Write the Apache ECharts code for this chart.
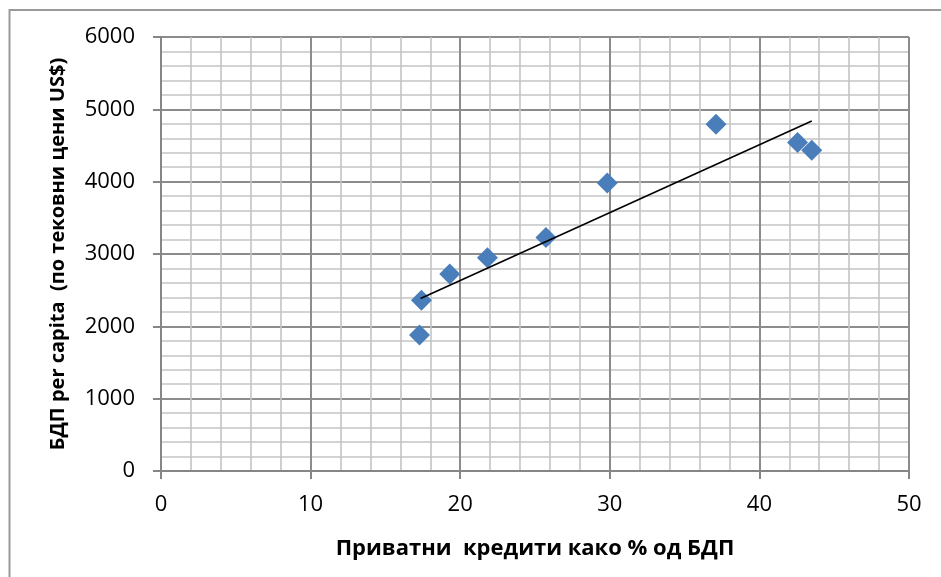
<!DOCTYPE html>
<html>
<head>
<meta charset="utf-8">
<script src="https://cdn.jsdelivr.net/npm/echarts@6/dist/echarts.min.js"></script>
<style>
html,body{margin:0;padding:0;background:#fff;}
#chart{width:941px;height:577px;}
</style>
</head>
<body>
<div id="chart"></div>
<script>
// Data
const creditPct = [17.28, 17.41, 19.30, 21.82, 25.73, 29.83, 37.10, 42.55, 43.50];
const gdpPerCapita = [1879, 2362, 2722, 2947, 3229, 3983, 4794, 4541, 4435];
const trendX = [17.35, 43.5];
const trendY = [2385, 4840];
const xTicks = [0, 10, 20, 30, 40, 50];
const yTicks = [0, 1000, 2000, 3000, 4000, 5000, 6000];
const xTitle = 'Приватни  кредити како % од БДП';
const yTitle = 'БДП per capita  (по тековни цени US$)';

const chart = echarts.init(document.getElementById('chart'), null, {renderer: 'canvas'});
const font = 'Open Sans';
const scatterData = creditPct.map((x, i) => [x, gdpPerCapita[i]]);
const trendData = trendX.map((x, i) => [x, trendY[i]]);

chart.setOption({
  animation: false,
  backgroundColor: '#ffffff',
  graphic: [{
    type: 'rect',
    shape: {x: 9.5, y: 10, width: 1000, height: 1000},
    style: {fill: 'none', stroke: '#9a9a9a', lineWidth: 2},
    silent: true,
    z: -10
  }],
  grid: {left: 161, right: 32, top: 37, bottom: 106, containLabel: false},
  xAxis: {
    type: 'value',
    min: xTicks[0], max: xTicks[xTicks.length - 1], interval: 10,
    name: xTitle,
    nameLocation: 'middle',
    nameGap: 67,
    nameTextStyle: {fontFamily: font, fontWeight: 'bold', fontSize: 22, color: '#000'},
    axisLine: {show: true, onZero: false, lineStyle: {color: '#868686', width: 2}},
    axisTick: {show: true, inside: false, length: 8, lineStyle: {color: '#868686', width: 2}},
    axisLabel: {fontFamily: font, fontSize: 22, color: '#000', margin: 23, formatter: v => String(v)},
    splitLine: {show: true, lineStyle: {color: '#8c8c8c', width: 2}},
    minorTick: {show: false, splitNumber: 5},
    minorSplitLine: {show: true, lineStyle: {color: '#c4c4c4', width: 1.6}}
  },
  yAxis: {
    type: 'value',
    min: yTicks[0], max: yTicks[yTicks.length - 1], interval: 1000,
    name: yTitle,
    nameLocation: 'middle',
    nameGap: 93,
    nameRotate: 90,
    nameTextStyle: {fontFamily: font, fontWeight: 'bold', fontSize: 20, color: '#000'},
    axisLine: {show: true, onZero: false, lineStyle: {color: '#868686', width: 2}},
    axisTick: {show: true, inside: false, length: 8, lineStyle: {color: '#868686', width: 2}},
    axisLabel: {fontFamily: font, fontSize: 22, color: '#000', margin: 26, formatter: v => String(v)},
    splitLine: {show: true, lineStyle: {color: '#8c8c8c', width: 2}},
    minorTick: {show: false, splitNumber: 5},
    minorSplitLine: {show: true, lineStyle: {color: '#c4c4c4', width: 1.6}}
  },
  series: [
    {
      type: 'line',
      data: trendData,
      symbol: 'none',
      lineStyle: {color: '#000', width: 1.6},
      z: 3
    },
    {
      type: 'scatter',
      data: scatterData,
      symbol: 'diamond',
      symbolSize: [21, 21],
      itemStyle: {color: '#4A7EBB', opacity: 1},
      z: 2
    }
  ]
});
</script>
</body>
</html>
